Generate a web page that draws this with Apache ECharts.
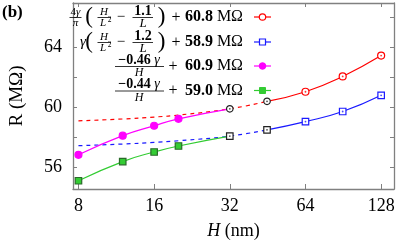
<!DOCTYPE html>
<html><head><meta charset="utf-8">
<script src="https://cdn.jsdelivr.net/npm/echarts@6/dist/echarts.min.js"></script>
<style>html,body{margin:0;padding:0;background:#fff}#c{width:399px;height:245px}</style>
</head><body><div id="c"></div>
<script>
// ---- data ----
const xTicks = [8, 16, 32, 64, 128];
const yTickLabels = [56, 60, 64];
const yTicks = [56, 58, 60, 62, 64, 66];

const H_red = [64, 90, 128];
const R_red = [61.01, 62.03, 63.42];
const H_blue = [64, 90, 128];
const R_blue = [59.02, 59.69, 60.77];
const H_mag = [8, 12, 16, 20];
const R_mag = [56.80, 58.08, 58.74, 59.20];
const H_grn = [8, 12, 16, 20];
const R_grn = [55.07, 56.35, 56.99, 57.39];
const H_blkCircle = [32, 45];
const R_blkCircle = [59.87, 60.37];
const H_blkSquare = [32, 45];
const R_blkSquare = [58.05, 58.47];

const H_fitRedSolid = [45, 64, 90, 128];
const R_fitRedSolid = [60.37, 61.01, 62.03, 63.42];
const H_fitRedDash = [8, 12, 16, 20, 32, 45];
const R_fitRedDash = [59.07, 59.19, 59.32, 59.45, 59.87, 60.37];
const H_fitBlueSolid = [45, 64, 90, 128];
const R_fitBlueSolid = [58.47, 59.02, 59.69, 60.77];
const H_fitBlueDash = [8, 12, 16, 20, 32, 45];
const R_fitBlueDash = [57.41, 57.52, 57.63, 57.74, 58.05, 58.47];
const H_fitMag = [8, 12, 16, 20, 32];
const R_fitMag = [56.80, 58.08, 58.74, 59.20, 59.87];
const H_fitGrn = [8, 12, 16, 20, 32];
const R_fitGrn = [55.07, 56.35, 56.99, 57.39, 58.05];

const legendNums = ['60.8', '58.9', '60.9', '59.0'];

// ---- build ----
const zip = (a, b) => a.map((v, i) => [v, b[i]]);
const F = "'Liberation Serif', 'Times New Roman', serif";
const AX = '#808080';
const RED = '#ff0000', BLUE = '#1a1aff', MAG = '#ff00ff', GRN = '#33cc33';

const chart = echarts.init(document.getElementById('c'), null, {renderer: 'canvas'});

function axisBase() {
  return {
    axisLine: {show: true, lineStyle: {color: AX, width: 1.3}},
    axisTick: {show: true, inside: true, length: 4, lineStyle: {color: AX, width: 1}},
    splitLine: {show: false}
  };
}

const xMin = 7.61, xMax = 144, yMin = 54.52, yMax = 66.93;

const xBottom = Object.assign(axisBase(), {
  type: 'log', logBase: 2, min: xMin, max: xMax, gridIndex: 0, position: 'bottom',
  axisTick: {show: true, inside: true, length: 5, customValues: xTicks, lineStyle: {color: AX, width: 1}},
  axisLabel: {show: true, customValues: xTicks, color: '#000', fontFamily: F, fontSize: 18, margin: 8},
  name: '{i|H} (nm)', nameLocation: 'middle', nameGap: 33,
  nameTextStyle: {color: '#000', fontFamily: F, fontSize: 18, rich: {i: {fontStyle: 'italic', fontFamily: F, fontSize: 18}}}
});
const xTop = Object.assign(axisBase(), {
  type: 'log', logBase: 2, min: xMin, max: xMax, gridIndex: 0, position: 'top',
  axisTick: {show: true, inside: true, length: 4, customValues: xTicks, lineStyle: {color: AX, width: 1}},
  axisLabel: {show: false}
});
const yLeft = Object.assign(axisBase(), {
  type: 'value', min: yMin, max: yMax, position: 'left',
  axisTick: {show: true, inside: true, length: 4, customValues: yTicks, lineStyle: {color: AX, width: 1}},
  axisLabel: {show: true, customValues: yTickLabels, color: '#000', fontFamily: F, fontSize: 18, margin: 11},
  name: 'R (MΩ)', nameLocation: 'middle', nameGap: 46, nameRotate: 90,
  nameTextStyle: {color: '#000', fontFamily: F, fontSize: 19}
});
const yRight = Object.assign(axisBase(), {
  type: 'value', min: yMin, max: yMax, position: 'right',
  axisTick: {show: true, inside: true, length: 4, customValues: yTicks, lineStyle: {color: AX, width: 1}},
  axisLabel: {show: false}
});

function fitLine(h, r, color, dashed) {
  return {type: 'line', data: zip(h, r), smooth: 0.5, showSymbol: false, symbol: 'none',
    silent: true, z: 2, lineStyle: {color: color, width: 1.2, type: dashed ? [4, 4] : 'solid'}};
}
function marks(h, r, symbol, size, fill, stroke, z) {
  return {type: 'scatter', data: zip(h, r), symbol: symbol, symbolSize: size, z: z || 4, silent: true,
    itemStyle: {color: fill, borderColor: stroke, borderWidth: 1.2, opacity: 1}};
}
function dots(h, r, color) {
  return {type: 'scatter', data: zip(h, r), symbol: 'circle', symbolSize: 1.8, z: 6, silent: true,
    itemStyle: {color: color}};
}

const series = [
  fitLine(H_fitRedDash, R_fitRedDash, RED, true),
  fitLine(H_fitBlueDash, R_fitBlueDash, BLUE, true),
  fitLine(H_fitRedSolid, R_fitRedSolid, RED, false),
  fitLine(H_fitBlueSolid, R_fitBlueSolid, BLUE, false),
  fitLine(H_fitMag, R_fitMag, MAG, false),
  fitLine(H_fitGrn, R_fitGrn, GRN, false),
  marks(H_red, R_red, 'circle', 7, '#fff', RED),
  dots(H_red, R_red, RED),
  marks(H_blue, R_blue, 'rect', 6.5, '#fff', BLUE),
  dots(H_blue, R_blue, BLUE),
  marks(H_mag, R_mag, 'circle', 7, MAG, MAG),
  marks(H_grn, R_grn, 'rect', 6.5, GRN, '#2a6a2a'),
  marks(H_blkCircle, R_blkCircle, 'circle', 6.5, '#fff', '#222', 5),
  dots(H_blkCircle, R_blkCircle, '#222'),
  marks(H_blkSquare, R_blkSquare, 'rect', 6.5, '#fff', '#222', 5),
  dots(H_blkSquare, R_blkSquare, '#222')
];

// ---- legend (math-style key) ----
const G = [];
function T(x, y, text, size, o) {
  o = o || {};
  G.push({type: 'text', x: x, y: y, z: 10, silent: true, style: Object.assign({
    text: text, fontFamily: F, fontSize: size, fill: '#000',
    textAlign: o.align || 'center', textVerticalAlign: 'middle',
    fontWeight: o.bold ? 'bold' : 'normal', fontStyle: o.italic ? 'italic' : 'normal'
  }, o.rich ? {rich: o.rich} : {})});
}
function BAR(x1, x2, y) {
  G.push({type: 'line', z: 10, silent: true, shape: {x1: x1, y1: y, x2: x2, y2: y}, style: {stroke: '#000', lineWidth: 0.8}});
}
const richTail = {
  b: {fontFamily: F, fontSize: 16, fontWeight: 'bold', fill: '#000'},
  n: {fontFamily: F, fontSize: 16, fill: '#000'}
};
function tail(cy, num, plusX) {
  T(plusX, cy + 0.5, '+', 16);
  T(243, cy, '{b|' + num + '} {n|MΩ}', 16, {align: 'right', rich: richTail});
}
function paren(cy, num) {
  T(89, cy - 0.5, '(', 23);
  T(104, cy - 5, 'H', 11, {italic: true});
  BAR(97.5, 111, cy + 0.5);
  T(103, cy + 6, 'L', 11, {italic: true});
  T(109.5, cy + 3.5, '2', 7.5);
  T(121, cy + 0.5, '−', 15);
  T(143, cy - 5.5, num, 14, {bold: true});
  BAR(132.5, 153, cy + 0.5);
  T(143, cy + 7, 'L', 13, {italic: true});
  T(161.5, cy - 0.5, ')', 23);
}
// row 1
(function () {
  const cy = 17;
  T(75.5, cy - 5, '{n|4}{i|γ}', 11, {rich: {n: {fontFamily: F, fontSize: 11, fill: '#000'}, i: {fontFamily: F, fontSize: 11, fontStyle: 'italic', fill: '#000'}}});
  BAR(69.5, 81.5, cy + 0.5);
  T(75.5, cy + 6, 'π', 11, {italic: true});
  paren(cy, '1.1');
  tail(cy, legendNums[0], 176);
})();
// row 2
(function () {
  const cy = 42;
  T(83, cy, 'γ', 15, {italic: true});
  paren(cy, '1.2');
  tail(cy, legendNums[1], 176);
})();
// rows 3, 4
[['−0.46', 66, legendNums[2]], ['−0.44', 90.5, legendNums[3]]].forEach(function (r) {
  const cy = r[1];
  T(139, cy - 6, '{b|' + r[0] + '} {i|γ}', 14, {rich: {
    b: {fontFamily: F, fontSize: 14, fontWeight: 'bold', fill: '#000'},
    i: {fontFamily: F, fontSize: 14, fontStyle: 'italic', fill: '#000'}}});
  BAR(115, 164, cy + 0.5);
  T(139, cy + 7, 'H', 12, {italic: true});
  tail(cy, r[2], 173);
});
// key samples
function keyLine(cy, color) {
  G.push({type: 'line', z: 10, silent: true, shape: {x1: 254, y1: cy, x2: 271, y2: cy}, style: {stroke: color, lineWidth: 1.2}});
}
keyLine(17, RED);
G.push({type: 'circle', z: 11, silent: true, shape: {cx: 262.5, cy: 17, r: 3.2}, style: {fill: '#fff', stroke: RED, lineWidth: 1.2}});
keyLine(42, BLUE);
G.push({type: 'rect', z: 11, silent: true, shape: {x: 259.5, y: 39, width: 6, height: 6}, style: {fill: '#fff', stroke: BLUE, lineWidth: 1.2}});
keyLine(66, MAG);
G.push({type: 'circle', z: 11, silent: true, shape: {cx: 262.5, cy: 66, r: 3.3}, style: {fill: MAG, stroke: MAG, lineWidth: 1}});
keyLine(90.5, GRN);
G.push({type: 'rect', z: 11, silent: true, shape: {x: 259.5, y: 87.5, width: 6, height: 6}, style: {fill: GRN, stroke: GRN, lineWidth: 1}});
// panel label
T(2, 13, '(b)', 17, {bold: true, align: 'left'});

chart.setOption({
  animation: false,
  backgroundColor: '#fff',
  grid: {left: 66, right: 5, top: 3, bottom: 54.3, containLabel: false},
  xAxis: [xBottom, xTop],
  yAxis: [yLeft, yRight],
  series: series,
  graphic: G
});
</script>
</body></html>
